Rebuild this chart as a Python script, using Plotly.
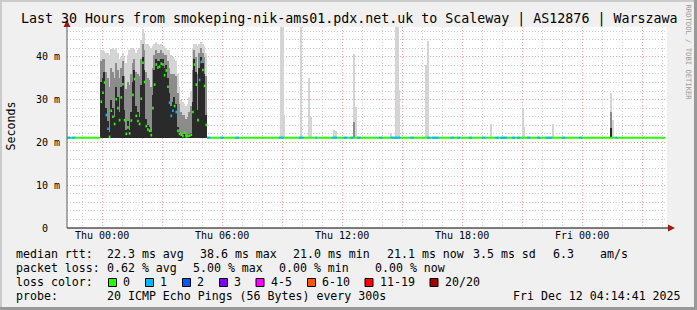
import plotly.graph_objects as go
from datetime import datetime, timedelta

# ---------------- data ----------------
TITLE = "Last 30 Hours from smokeping-nik-ams01.pdx.net.uk to Scaleway | AS12876 | Warszawa"
X_START = "2025-12-10 22:14:41"
X_END = "2025-12-12 04:14:41"
STEP_MIN = 5
MIN_RTT = 21.0          # ms, lowest ping (legend "21.0 ms min")

# busy period, one value per 5-minute step starting at BUSY_START
BUSY_START = "2025-12-10 23:55"
busy_median = [29.5, 31.6, 34.0, 26.4, 23.2, 21.3, 27.4, 26.0, 24.3, 30.1,
               28.0, 25.2, 30.5, 33.6, 25.2, 22.0, 23.5, 22.1, 25.1, 31.1,
               34.8, 26.2, 25.0, 24.3, 30.2, 38.6, 34.1, 23.8, 23.0, 22.7,
               21.7, 28.0, 33.5, 38.2, 37.5, 37.7, 38.4, 38.2, 35.7, 36.8,
               33.0, 29.3, 26.2, 27.4, 28.5, 27.1, 22.7, 22.0, 21.8, 21.5,
               22.3, 21.4, 21.5, 21.6, 21.8, 27.1, 38.2, 33.5, 25.2, 34.6,
               38.8, 36.9, 33.2, 24.1]
busy_loss = [0, 0, 0, 1, 1, 0, 0, 0, 0, 0,
             0, 0, 0, 0, 0, 0, 0, 0, 0, 0,
             0, 0, 0, 0, 0, 0, 0, 0, 0, 0,
             0, 0, 0, 0, 0, 0, 0, 0, 0, 0,
             0, 1, 1, 1, 0, 1, 0, 0, 0, 0,
             0, 0, 0, 0, 0, 0, 0, 0, 0, 1,
             1, 0, 0, 0]
busy_top = [41.5, 41.6, 41.4, 41.0, 41.0, 40.5, 41.8, 42.0, 41.5, 42.0,
            41.0, 39.5, 40.0, 41.0, 40.0, 38.5, 40.5, 41.5, 42.0, 42.0,
            41.8, 41.0, 41.5, 42.0, 44.0, 46.5, 45.5, 43.0, 43.0, 42.5,
            42.0, 42.5, 43.0, 43.5, 43.0, 42.8, 43.0, 42.5, 42.5, 42.0,
            41.5, 41.5, 40.5, 40.0, 39.5, 39.0, 36.0, 33.0, 30.0, 29.5,
            29.0, 28.5, 29.0, 30.5, 32.0, 42.0, 43.0, 43.0, 42.5, 43.0,
            43.5, 43.0, 42.5, 41.0]
busy_upper = [39.0, 39.5, 39.5, 36.5, 35.0, 33.0, 37.5, 36.5, 35.0, 38.5,
              37.0, 35.0, 37.5, 39.0, 35.5, 32.5, 34.0, 33.5, 36.0, 38.5,
              39.5, 36.5, 36.0, 35.5, 39.5, 43.0, 41.5, 36.5, 35.0, 34.5,
              33.0, 37.5, 40.5, 41.5, 41.0, 41.0, 41.5, 41.0, 40.5, 40.5,
              39.0, 37.5, 36.0, 36.0, 36.0, 35.5, 31.5, 29.0, 27.0, 26.5,
              26.5, 25.5, 26.0, 27.0, 28.5, 37.0, 41.5, 40.0, 36.0, 41.0,
              42.0, 41.0, 40.0, 35.5]
busy_core = [34.0, 35.0, 36.5, 28.0, 25.0, 22.5, 30.0, 28.0, 26.0, 33.0,
             30.5, 27.0, 33.0, 35.5, 27.5, 23.0, 25.0, 23.0, 27.0, 34.0,
             37.0, 28.5, 27.0, 26.0, 33.5, 40.0, 37.0, 25.5, 24.0, 23.5,
             22.5, 31.0, 37.0, 39.5, 39.0, 39.0, 39.5, 39.5, 37.5, 38.0,
             35.0, 31.5, 28.5, 29.5, 30.5, 29.0, 23.5, 22.5, 22.0, 21.8,
             22.0, 21.6, 21.8, 21.9, 22.2, 29.5, 39.5, 36.5, 27.5, 37.5,
             40.0, 38.5, 36.0, 26.5]

# isolated smoke spikes outside the busy period (start of 5-minute step)
spike_time = ["2025-12-11 08:55", "2025-12-11 09:00", "2025-12-11 09:05",
              "2025-12-11 09:55", "2025-12-11 10:20", "2025-12-11 10:25",
              "2025-12-11 11:35", "2025-12-11 11:40", "2025-12-11 12:35",
              "2025-12-11 12:40", "2025-12-11 14:25", "2025-12-11 14:40",
              "2025-12-11 14:45", "2025-12-11 14:50", "2025-12-11 16:10",
              "2025-12-11 16:15", "2025-12-11 19:25", "2025-12-11 21:00",
              "2025-12-11 21:05", "2025-12-11 22:30", "2025-12-12 01:25",
              "2025-12-12 01:30"]
spike_top = [46.9, 46.9, 26.4, 46.9, 35.0, 26.0, 22.9, 22.7, 40.7, 28.2,
             22.2, 46.9, 46.9, 32.2, 38.1, 43.8, 24.2, 28.0, 23.7, 24.2,
             31.6, 25.2]
spike_upper = [None, None, None, None, None, None, None, None, 24.8, None,
               None, None, None, None, None, None, None, None, None, None,
               27.2, None]
spike_core = [None, None, None, None, None, None, None, None, None, None,
              None, None, None, None, None, None, None, None, None, None,
              23.3, None]

# flat median outside the busy period
BASE_MEDIAN = 21.1
base_from = ["2025-12-10 22:15", "2025-12-11 05:15"]
base_to = ["2025-12-10 23:55", "2025-12-12 04:10"]
# stretches of the flat median with 1 lost ping
loss1_from = ["2025-12-10 22:15", "2025-12-10 22:30", "2025-12-11 05:15",
              "2025-12-11 05:55", "2025-12-11 06:40", "2025-12-11 08:50",
              "2025-12-11 09:50", "2025-12-11 10:40", "2025-12-11 11:30",
              "2025-12-11 12:05", "2025-12-11 12:25", "2025-12-11 12:45",
              "2025-12-11 13:50", "2025-12-11 14:25", "2025-12-11 15:25",
              "2025-12-11 16:15", "2025-12-11 16:30", "2025-12-11 17:25",
              "2025-12-11 17:45", "2025-12-11 18:20", "2025-12-11 19:00",
              "2025-12-11 19:40", "2025-12-11 19:55", "2025-12-11 20:30",
              "2025-12-11 20:45", "2025-12-11 21:15", "2025-12-11 21:45",
              "2025-12-11 22:10", "2025-12-11 23:00", "2025-12-11 23:50",
              "2025-12-12 01:40"]
loss1_to = ["2025-12-10 22:25", "2025-12-10 22:40", "2025-12-11 05:25",
            "2025-12-11 06:05", "2025-12-11 06:50", "2025-12-11 09:05",
            "2025-12-11 10:05", "2025-12-11 10:45", "2025-12-11 11:45",
            "2025-12-11 12:15", "2025-12-11 12:35", "2025-12-11 12:55",
            "2025-12-11 14:00", "2025-12-11 14:55", "2025-12-11 15:35",
            "2025-12-11 16:25", "2025-12-11 16:50", "2025-12-11 17:35",
            "2025-12-11 17:55", "2025-12-11 18:30", "2025-12-11 19:10",
            "2025-12-11 19:50", "2025-12-11 20:15", "2025-12-11 20:40",
            "2025-12-11 20:55", "2025-12-11 21:25", "2025-12-11 21:55",
            "2025-12-11 22:30", "2025-12-11 23:10", "2025-12-12 00:00",
            "2025-12-12 01:45"]

y_tick_vals = [0, 10, 20, 30, 40]
y_tick_text = ["0\u00a0\u00a0", "10 m", "20 m", "30 m", "40 m"]
x_tick_vals = ["2025-12-11 00:00", "2025-12-11 03:00", "2025-12-11 06:00",
               "2025-12-11 09:00", "2025-12-11 12:00", "2025-12-11 15:00",
               "2025-12-11 18:00", "2025-12-11 21:00", "2025-12-12 00:00",
               "2025-12-12 03:00"]
x_tick_text = ["Thu 00:00", "", "Thu 06:00", "", "Thu 12:00", "",
               "Thu 18:00", "", "Fri 00:00", ""]

loss_labels = ["0", "1", "2", "3", "4-5", "6-10", "11-19", "20/20"]
loss_colors = ["#26ff00", "#00b8ff", "#0059ff", "#7e00ff", "#ff00ff",
               "#ff5500", "#ff0000", "#a10000"]

legend_rows = [
    [("median rtt:", 16), ("22.3 ms avg", 107.3), ("38.6 ms max", 200),
     ("21.0 ms min", 293.3), ("21.1 ms now", 386.7), ("3.5 ms sd", 473.3),
     ("6.3", 553.3), ("am/s", 600)],
    [("packet loss:", 16), ("0.62 % avg", 107.3), ("5.00 % max", 193),
     ("0.00 % min", 279.3), ("0.00 % now", 375)],
    [("probe:", 16), ("20 ICMP Echo Pings (56 Bytes) every 300s", 107.3),
     ("Fri Dec 12 04:14:41 2025", 513.3)],
]
legend_row_y = [254, 268.3, 296]
swatch_x = [108.5, 145.5, 182.5, 219.5, 256, 307.5, 365, 430]
swatch_label_x = [123, 160, 197, 234, 270.5, 321.5, 380, 445]

# ---------------- layout geometry ----------------
W, H = 697, 310
ML, MR, MT, MB = 67, 30, 27, 82
PW, PH = W - ML - MR, H - MT - MB
MONO = "DejaVu Sans Mono"


def fx(px):
    return (px - ML) / PW


def fy(py):
    return (MT + PH - py) / PH


def T(s):
    return datetime.strptime(s, "%Y-%m-%d %H:%M")


step = timedelta(minutes=STEP_MIN)
step_ms = STEP_MIN * 60 * 1000

fig = go.Figure()

# ---- smoke ----
busy_t0 = T(BUSY_START)
busy_mid = [busy_t0 + step * i + step / 2 for i in range(len(busy_median))]
spike_mid = [T(s) + step / 2 for s in spike_time]

smoke_layers = [
    (busy_top, spike_top, "#d4d4d4"),
    (busy_upper, spike_upper, "#8c8c8c"),
    (busy_core, spike_core, "#2a2a2a"),
]
for bvals, svals, col in smoke_layers:
    xs, hs = [], []
    for t, v in zip(busy_mid, bvals):
        xs.append(t)
        hs.append(v - MIN_RTT)
    for t, v in zip(spike_mid, svals):
        if v is not None:
            xs.append(t)
            hs.append(v - MIN_RTT)
    fig.add_trace(go.Bar(x=xs, y=hs, base=MIN_RTT, width=step_ms,
                         marker=dict(color=col, line=dict(width=0)),
                         hoverinfo="skip", showlegend=False))


# ---- median line ----
def seg_trace(starts, ends, vals, color, width=2):
    xs, ys = [], []
    for a, b, v in zip(starts, ends, vals):
        xs += [a, b, None]
        ys += [v, v, None]
    return go.Scatter(x=xs, y=ys, mode="lines",
                      line=dict(color=color, width=width),
                      hoverinfo="skip", showlegend=False)


fig.add_trace(seg_trace([T(s) for s in base_from], [T(s) for s in base_to],
                        [BASE_MEDIAN] * len(base_from), loss_colors[0]))
fig.add_trace(seg_trace([T(s) for s in loss1_from], [T(s) for s in loss1_to],
                        [BASE_MEDIAN] * len(loss1_from), loss_colors[1]))
for lv in sorted(set(busy_loss)):
    st = [busy_t0 + step * i for i, l in enumerate(busy_loss) if l == lv]
    en = [busy_t0 + step * (i + 1) for i, l in enumerate(busy_loss) if l == lv]
    vs = [busy_median[i] for i, l in enumerate(busy_loss) if l == lv]
    fig.add_trace(seg_trace(st, en, vs, loss_colors[lv], width=2.6))

# ---- layout ----
GRID_MINOR = "#cdcdcd"
GRID_MAJOR = "#efa0a0"
fig.update_layout(
    width=W, height=H,
    margin=dict(l=ML, r=MR, t=MT, b=MB, pad=0),
    paper_bgcolor="#f0f0f0", plot_bgcolor="#ffffff",
    barmode="overlay", bargap=0,
    showlegend=False,
    font=dict(family=MONO, size=10, color="#000000"),
    xaxis=dict(type="date", range=[X_START, X_END],
               tickmode="array", tickvals=x_tick_vals, ticktext=x_tick_text,
               showgrid=True, gridcolor=GRID_MAJOR, griddash="1px,2px",
               gridwidth=1, zeroline=False, showline=False, ticks="",
               tickfont=dict(family=MONO, size=10, color="#000"),
               minor=dict(dtick=3600000, tick0="2025-12-11 00:00",
                          showgrid=True, gridcolor=GRID_MINOR,
                          griddash="1px,2px", gridwidth=1)),
    yaxis=dict(range=[0, PH / 4.28], tickmode="array",
               tickvals=y_tick_vals, ticktext=y_tick_text,
               showgrid=True, gridcolor=GRID_MAJOR, griddash="1px,2px",
               gridwidth=1, zeroline=False, showline=False, ticks="",
               ticklabelstandoff=6,
               tickfont=dict(family=MONO, size=10, color="#000"),
               minor=dict(dtick=2, tick0=0, showgrid=True,
                          gridcolor=GRID_MINOR, griddash="1px,2px",
                          gridwidth=1)),
)

shapes = []
# axes lines and arrows
shapes.append(dict(type="line", xref="paper", yref="paper",
                   x0=fx(67), x1=fx(670), y0=fy(228), y1=fy(228),
                   line=dict(color="#000000", width=1)))
shapes.append(dict(type="line", xref="paper", yref="paper",
                   x0=fx(67), x1=fx(67), y0=fy(228), y1=fy(25),
                   line=dict(color="#5a5a5a", width=1)))
shapes.append(dict(type="path", xref="paper", yref="paper",
                   path=f"M {fx(668)} {fy(224.5)} L {fx(675)} {fy(228)} L {fx(668)} {fy(231.5)} Z",
                   fillcolor="#a01818", line=dict(width=0)))
shapes.append(dict(type="path", xref="paper", yref="paper",
                   path=f"M {fx(63.5)} {fy(27)} L {fx(67)} {fy(20)} L {fx(70.5)} {fy(27)} Z",
                   fillcolor="#a01818", line=dict(width=0)))
# frame shading
shapes.append(dict(type="line", xref="paper", yref="paper",
                   x0=fx(0), x1=fx(W), y0=fy(1), y1=fy(1),
                   line=dict(color="#cbcbcb", width=2)))
shapes.append(dict(type="line", xref="paper", yref="paper",
                   x0=fx(1), x1=fx(1), y0=fy(0), y1=fy(H),
                   line=dict(color="#cbcbcb", width=2)))
shapes.append(dict(type="line", xref="paper", yref="paper",
                   x0=fx(0), x1=fx(W), y0=fy(H - 1.5), y1=fy(H - 1.5),
                   line=dict(color="#999999", width=3)))
shapes.append(dict(type="line", xref="paper", yref="paper",
                   x0=fx(W - 1.5), x1=fx(W - 1.5), y0=fy(0), y1=fy(H),
                   line=dict(color="#999999", width=3)))
# loss colour swatches
for sx, col in zip(swatch_x, loss_colors):
    shapes.append(dict(type="rect", xref="paper", yref="paper",
                       x0=fx(sx), x1=fx(sx + 8), y0=fy(278.5), y1=fy(286.5),
                       fillcolor=col, line=dict(color="#000000", width=1)))
fig.update_layout(shapes=shapes)

ann = []
ann.append(dict(text=TITLE, x=fx(W / 2), y=fy(19), xref="paper", yref="paper",
                showarrow=False, xanchor="center", yanchor="middle",
                font=dict(family=MONO, size=13.3, color="#000")))
ann.append(dict(text="Seconds", x=fx(10.5), y=fy(126), xref="paper", yref="paper",
                showarrow=False, textangle=-90, xanchor="center", yanchor="middle",
                font=dict(family=MONO, size=11.6, color="#000")))
ann.append(dict(text="RRDTOOL / TOBI OETIKER", x=fx(688.5), y=fy(52),
                xref="paper", yref="paper", showarrow=False, textangle=90,
                xanchor="center", yanchor="middle",
                font=dict(family=MONO, size=7.2, color="#9a9a9a")))
for row, ry in zip(legend_rows, legend_row_y):
    for txt, px in row:
        ann.append(dict(text=txt.replace(" ", "\u00a0"), x=fx(px), y=fy(ry),
                        xref="paper", yref="paper", showarrow=False,
                        xanchor="left", yanchor="middle", borderpad=0,
                        borderwidth=0,
                        font=dict(family=MONO, size=11.6, color="#000")))
ann.append(dict(text="loss\u00a0color:", x=fx(16), y=fy(282.3), xref="paper",
                yref="paper", showarrow=False, xanchor="left", yanchor="middle",
                borderpad=0, borderwidth=0,
                font=dict(family=MONO, size=11.6, color="#000")))
for lbl, px in zip(loss_labels, swatch_label_x):
    ann.append(dict(text=lbl, x=fx(px), y=fy(282.3), xref="paper", yref="paper",
                    showarrow=False, xanchor="left", yanchor="middle",
                    borderpad=0, borderwidth=0,
                    font=dict(family=MONO, size=11.6, color="#000")))
fig.update_layout(annotations=ann)

fig.write_html("out.html")
